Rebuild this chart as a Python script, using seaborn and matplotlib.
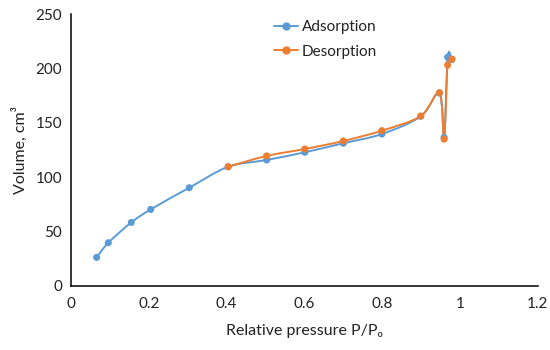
import numpy as np
import matplotlib
matplotlib.use("Agg")
import matplotlib.pyplot as plt
from matplotlib.path import Path
from matplotlib.patches import PathPatch
from matplotlib.lines import Line2D
import seaborn as sns

# values
ads_p = [0.066, 0.096, 0.155, 0.205, 0.304, 0.404, 0.503, 0.601, 0.700, 0.799,
         0.899, 0.947, 0.959, 0.968, 0.979]
ads_v = [26.0, 39.5, 58.2, 70.2, 90.2, 109.5, 115.8, 122.9, 131.2, 139.7,
         156.0, 177.5, 136.5, 210.5, 208.3]

des_p = [0.979, 0.968, 0.959, 0.947, 0.899, 0.799, 0.700, 0.601, 0.503, 0.404]
des_v = [208.8, 203.3, 135.0, 177.8, 156.3, 142.8, 133.3, 125.9, 119.5, 109.6]

labels = ["Adsorption", "Desorption"]
colors = ["#5B9BD5", "#ED7D31"]

sns.set_style("white")
plt.rcParams["font.family"] = ["Lato", "DejaVu Sans"]


def smooth_path(xs, ys):
    # Excel-like smoothed line: Catmull-Rom as cubic Bezier
    pts = np.column_stack([xs, ys])
    ext = np.vstack([pts[0], pts, pts[-1]])
    verts = [pts[0]]
    codes = [Path.MOVETO]
    for i in range(1, len(ext) - 2):
        p0, p1, p2, p3 = ext[i - 1], ext[i], ext[i + 1], ext[i + 2]
        verts += [p1 + (p2 - p0) / 6, p2 - (p3 - p1) / 6, p2]
        codes += [Path.CURVE4] * 3
    return Path(verts, codes)


fig = plt.figure(figsize=(5.5, 3.5), dpi=100)
ax = fig.add_axes([0.129, 0.184, 0.849, 0.775])

for xs, ys, c in [(ads_p, ads_v, colors[0]), (des_p, des_v, colors[1])]:
    ax.add_patch(PathPatch(smooth_path(xs, ys), fill=False, edgecolor=c,
                           lw=1.4, zorder=2))
    sns.scatterplot(x=xs, y=ys, color=c, s=26, edgecolor="none", ax=ax,
                    zorder=3, legend=False)

ax.set_xlim(0, 1.2)
ax.set_ylim(0, 250)
ax.set_xticks(np.arange(0, 1.21, 0.2))
ax.set_xticklabels(["0", "0.2", "0.4", "0.6", "0.8", "1", "1.2"])
ax.set_yticks(range(0, 251, 50))

sns.despine(ax=ax)
for s in ["left", "bottom"]:
    ax.spines[s].set_color("black")
    ax.spines[s].set_linewidth(1.1)
ax.tick_params(axis="x", direction="inout", length=7, width=1.0,
               labelsize=11, colors="#222222", pad=5)
ax.tick_params(axis="y", direction="out", length=3.5, width=1.0,
               labelsize=11, colors="#222222", pad=3)
ax.tick_params(axis="both", color="black")

ax.set_xlabel("Relative pressure P/P\u2080", fontsize=11.5, labelpad=9,
              color="#222222")
ax.set_ylabel("Volume, cm\u00b3", fontsize=11.5, labelpad=5, color="#222222")

handles = [Line2D([], [], color=c, marker="o", markersize=5, lw=1.4)
           for c in colors]
ax.legend(handles, labels, loc="upper left", bbox_to_anchor=(0.405, 1.03),
          frameon=False, fontsize=11, handlelength=1.6, handletextpad=0.25,
          labelspacing=0.7, labelcolor="#222222")

fig.savefig("out.png", dpi=100)
